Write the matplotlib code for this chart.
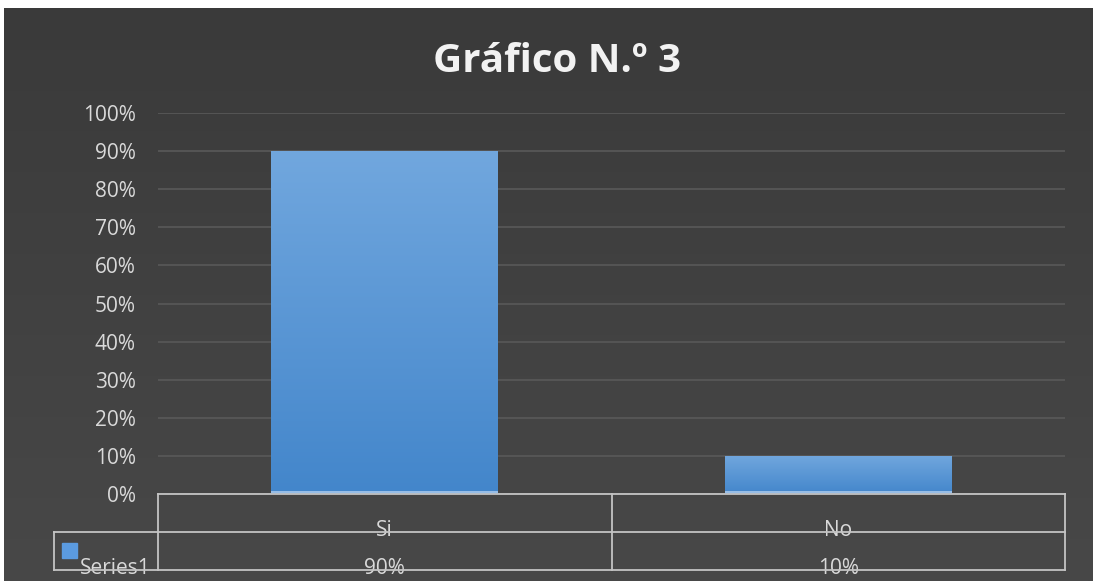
import numpy as np
import matplotlib.pyplot as plt
from matplotlib.colors import LinearSegmentedColormap
from matplotlib.patches import Rectangle
import matplotlib.transforms as mtransforms

# Chart data
categories = ["Si", "No"]
values = [0.90, 0.10]
series_name = "Series1"
title = "Gráfico N.º 3"
yticks = [0.0, 0.1, 0.2, 0.3, 0.4, 0.5, 0.6, 0.7, 0.8, 0.9, 1.0]

W, H = 1099, 581
fig = plt.figure(figsize=(W / 100, H / 100), dpi=100, facecolor="white")

FONT = "Open Sans"
TXT = "#d9d9d9"
LINE = "#c4c4c4"

# Dark chart panel with a soft vertical gradient
bg = fig.add_axes([4 / W, 0, 1089 / W, 573 / H])
bg.set_axis_off()
grad = np.linspace(0, 1, 256).reshape(-1, 1)
bg_cmap = LinearSegmentedColormap.from_list("panel", ["#484848", "#3a3a3a"])
bg.imshow(grad, aspect="auto", cmap=bg_cmap, extent=[0, 1, 0, 1], origin="lower")

# Plot area
ax = fig.add_axes([158 / W, 87 / H, 907 / W, 381 / H])
ax.set_facecolor("none")
for s in ax.spines.values():
    s.set_visible(False)

x = np.arange(len(categories))
bars = ax.bar(x, values, width=0.5, color="#5596d6", zorder=2)

# Vertical gradient fill inside each bar
bar_cmap = LinearSegmentedColormap.from_list("bar", ["#4386cb", "#71a7de"])
for b in bars:
    x0, y0 = b.get_x(), b.get_y()
    w, h = b.get_width(), b.get_height()
    im = ax.imshow(grad, aspect="auto", cmap=bar_cmap, origin="lower",
                   extent=[x0, x0 + w, y0, y0 + h], zorder=3)
    im.set_clip_path(b)
    # thin light edge along the base of the bar
    ax.plot([x0, x0 + w], [y0 + 0.004, y0 + 0.004], color="#a9c9ec",
            lw=1.2, zorder=4, solid_capstyle="butt")

ax.set_xlim(-0.5, len(categories) - 0.5)
ax.set_ylim(0, 1)

ax.set_yticks(yticks)
ax.set_yticklabels([f"{round(v * 100)}%" for v in yticks])
ax.tick_params(axis="y", length=0, pad=16, labelsize=15, labelcolor=TXT)
for lab in ax.get_yticklabels():
    lab.set_family(FONT)
ax.set_xticks([])
ax.yaxis.grid(True, color="#575757", lw=1.3)
ax.set_axisbelow(True)

# Data table beneath the plot
tr = mtransforms.blended_transform_factory(ax.transData, ax.transAxes)
r1 = -38 / 381
r2 = -76 / 381
legend_left = -0.729
lkw = dict(color=LINE, lw=1.3, transform=tr, clip_on=False, zorder=5)
ax.plot([-0.5, 1.5], [0, 0], **lkw)
ax.plot([legend_left, 1.5], [r1, r1], **lkw)
ax.plot([legend_left, 1.5], [r2, r2], **lkw)
for xv in (-0.5, 0.5, 1.5):
    ax.plot([xv, xv], [0, r2], **lkw)
ax.plot([legend_left, legend_left], [r1, r2], **lkw)

for xi, cat, val in zip(x, categories, values):
    ax.text(xi, -37 / 381, cat, transform=tr, ha="center", va="center",
            fontsize=15, color=TXT, family=FONT)
    ax.text(xi, -75 / 381, f"{round(val * 100)}%", transform=tr, ha="center",
            va="center", fontsize=15, color=TXT, family=FONT)

# Legend key and series name
ax.add_patch(Rectangle((-0.711, -64 / 381), 15 / 453.5, 15 / 381,
                       transform=tr, clip_on=False, color="#5b9be0", zorder=5))
ax.text(-0.672, -75 / 381, series_name, transform=tr, ha="left", va="center",
        fontsize=15, color=TXT, family=FONT)

fig.text(557 / W, 1 - 61 / H, title, ha="center", va="center", fontsize=29,
         fontweight="bold", color="#f2f2f2", family=FONT)

fig.savefig("out.png", dpi=100, facecolor="white")
